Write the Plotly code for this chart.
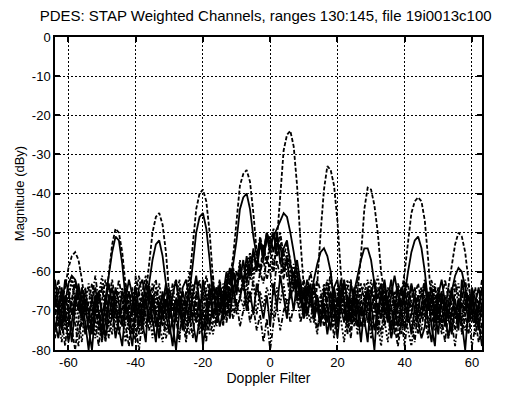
import plotly.graph_objects as go

doppler = list(range(-64, 64))

# target-bearing range (dashed)
s1 = [-70, -74, -68, -64, -59, -56, -55, -57, -62, -69, -75, -70, -66, -72, -78, -68,
      -60, -53, -49, -50, -55, -64, -72, -76, -69, -65, -71, -66, -58, -50, -46, -45,
      -48, -55, -66, -74, -70, -67, -73, -69, -62, -52, -44, -40, -39, -42, -50, -62,
      -72, -68, -74, -66, -62, -56, -46, -38, -35, -34, -37, -45, -55, -60, -57, -62,
      -58, -60, -52, -40, -29, -25, -24, -28, -38, -52, -64, -70, -66, -72, -63, -50,
      -39, -33, -34, -38, -47, -60, -68, -74, -69, -72, -65, -56, -44, -38.5, -39, -43,
      -50, -60, -66, -72, -69, -76, -70, -66, -60, -52, -45, -42, -41, -42, -47, -57,
      -69, -73, -68, -74, -70, -64, -58, -53, -50, -51, -55, -62, -70, -74, -68, -72]
# adjacent range (solid), weaker target returns
s2 = [-66, -70, -75, -68, -63, -61, -62, -66, -72, -67, -70, -76, -68, -65, -71, -67,
      -61, -55, -51, -52, -58, -67, -73, -68, -64, -70, -74, -67, -63, -57, -53, -52,
      -56, -63, -71, -66, -62, -69, -75, -70, -65, -58, -50, -46, -45, -49, -57, -67,
      -64, -70, -66, -60, -63, -58, -52, -44, -41, -40, -44, -51, -56, -52, -55, -50,
      -53, -51, -49, -47, -45, -46, -50, -55, -61, -66, -72, -64, -68, -62, -58, -55,
      -54, -56, -60, -68, -74, -66, -62, -68, -73, -65, -61, -57, -54, -54, -57, -63,
      -71, -67, -62, -68, -75, -70, -64, -69, -66, -60, -55, -52, -51, -54, -60, -68,
      -64, -70, -76, -66, -69, -72, -65, -61, -59, -60, -64, -70, -66, -73, -69, -64]
s3 = [-62, -68, -74, -66, -70, -78, -69, -64, -67, -73, -80, -71, -66, -70, -75, -68,
      -63, -69, -77, -72, -65, -68, -74, -79, -70, -64, -62, -68, -73, -66, -71, -77,
      -69, -63, -67, -74, -80, -70, -65, -69, -73, -66, -61, -68, -75, -70, -64, -71,
      -70, -64, -72, -62, -68, -60, -66, -58, -63, -56, -61, -54, -59, -52, -57, -51,
      -55, -50, -56, -53, -60, -57, -64, -60, -67, -62, -70, -66, -63, -71, -66, -73,
      -68, -73, -65, -70, -77, -68, -63, -67, -72, -66, -70, -78, -69, -64, -68, -75,
      -70, -65, -71, -67, -62, -69, -74, -68, -64, -70, -76, -69, -66, -72, -67, -73,
      -78, -70, -65, -69, -74, -68, -64, -71, -67, -73, -80, -69, -65, -70, -75, -68]
s4 = [-71, -65, -69, -75, -67, -62, -70, -76, -72, -66, -64, -70, -77, -68, -63, -69,
      -74, -67, -71, -65, -72, -78, -70, -66, -64, -71, -76, -69, -63, -70, -66, -73,
      -78, -71, -65, -70, -67, -62, -68, -74, -69, -63, -70, -76, -68, -64, -72, -66,
      -65, -71, -63, -69, -61, -67, -64, -57, -65, -60, -55, -62, -57, -61, -54, -58,
      -52, -58, -54, -51, -59, -55, -62, -58, -65, -70, -64, -69, -73, -65, -70, -66,
      -71, -65, -69, -74, -67, -72, -78, -70, -66, -71, -64, -69, -73, -67, -62, -68,
      -73, -79, -71, -66, -70, -65, -71, -76, -70, -65, -68, -74, -70, -64, -69, -75,
      -67, -63, -70, -76, -68, -72, -66, -62, -69, -74, -67, -63, -70, -76, -71, -66]
s5 = [-67, -73, -78, -70, -65, -68, -73, -79, -69, -64, -71, -67, -73, -79, -72, -66,
      -70, -76, -68, -62, -67, -73, -69, -64, -74, -80, -72, -67, -71, -65, -62, -69,
      -66, -72, -68, -63, -70, -76, -71, -65, -71, -77, -66, -62, -69, -74, -67, -61,
      -73, -68, -66, -71, -65, -70, -62, -66, -61, -68, -59, -64, -66, -60, -63, -56,
      -60, -66, -57, -62, -55, -61, -67, -63, -59, -66, -72, -68, -64, -70, -75, -69,
      -66, -62, -67, -72, -66, -70, -63, -68, -75, -69, -65, -72, -66, -70, -77, -71,
      -64, -68, -74, -69, -64, -71, -67, -72, -79, -71, -67, -64, -70, -75, -68, -65,
      -71, -66, -73, -68, -62, -67, -73, -79, -71, -66, -62, -68, -73, -67, -72, -77]
s6 = [-75, -69, -64, -71, -78, -73, -66, -70, -64, -69, -75, -80, -70, -65, -71, -77,
      -68, -64, -70, -75, -79, -69, -65, -71, -67, -74, -69, -63, -66, -72, -78, -68,
      -72, -67, -73, -79, -69, -66, -74, -70, -64, -69, -73, -67, -79, -72, -68, -63,
      -68, -74, -70, -65, -72, -64, -69, -67, -62, -70, -65, -71, -63, -68, -72, -66,
      -74, -63, -69, -61, -66, -72, -64, -70, -62, -68, -65, -71, -67, -63, -69, -74,
      -64, -70, -75, -64, -62, -69, -73, -66, -70, -64, -68, -74, -71, -65, -72, -80,
      -68, -72, -66, -70, -77, -72, -68, -64, -68, -73, -71, -66, -72, -69, -63, -70,
      -66, -73, -68, -65, -71, -77, -70, -67, -73, -68, -70, -66, -71, -68, -64, -70]
s7 = [-68, -62, -67, -72, -69, -74, -80, -72, -66, -71, -68, -63, -69, -74, -70, -78,
      -72, -66, -73, -69, -70, -64, -68, -73, -78, -70, -66, -71, -75, -69, -64, -70,
      -74, -68, -64, -69, -72, -67, -73, -78, -68, -72, -65, -70, -66, -61, -66, -72,
      -64, -69, -66, -72, -63, -60, -65, -59, -63, -58, -62, -56, -55, -60, -53, -58,
      -54, -60, -52, -57, -62, -56, -59, -65, -61, -66, -70, -64, -68, -73, -67, -70,
      -74, -68, -62, -66, -71, -65, -69, -76, -67, -73, -69, -63, -67, -73, -70, -66,
      -76, -70, -64, -68, -73, -70, -77, -71, -66, -71, -64, -70, -76, -70, -66, -72,
      -70, -75, -70, -66, -73, -64, -69, -75, -70, -65, -71, -76, -68, -72, -78, -73]
s8 = [-64, -70, -66, -73, -68, -61, -66, -72, -78, -69, -63, -67, -72, -66, -61, -67,
      -73, -68, -76, -70, -64, -69, -75, -71, -66, -61, -67, -74, -70, -77, -68, -63,
      -69, -75, -70, -65, -62, -68, -73, -66, -60, -66, -71, -67, -73, -65, -70, -76,
      -71, -66, -73, -68, -70, -64, -71, -66, -69, -63, -68, -62, -71, -65, -69, -64,
      -67, -72, -64, -68, -63, -70, -66, -62, -68, -64, -69, -72, -66, -71, -76, -68,
      -63, -68, -72, -67, -64, -71, -66, -62, -69, -74, -67, -71, -66, -62, -70, -65,
      -61, -67, -72, -78, -69, -65, -70, -74, -69, -75, -79, -72, -67, -64, -71, -68,
      -62, -68, -73, -67, -71, -77, -72, -66, -63, -69, -75, -71, -66, -73, -69, -65]
s9 = [-73, -77, -70, -62, -65, -71, -67, -63, -70, -76, -72, -67, -64, -71, -77, -73,
      -66, -72, -64, -68, -74, -67, -62, -66, -72, -68, -73, -78, -64, -68, -74, -72,
      -65, -70, -76, -72, -67, -71, -64, -62, -67, -73, -78, -72, -62, -67, -74, -68,
      -67, -63, -69, -64, -59, -65, -60, -62, -57, -63, -58, -55, -60, -53, -56, -52,
      -51, -55, -50, -58, -54, -52, -58, -61, -57, -63, -67, -62, -66, -72, -69, -73,
      -69, -76, -70, -64, -69, -62, -67, -73, -63, -67, -74, -69, -72, -78, -66, -62,
      -67, -63, -69, -73, -66, -61, -66, -70, -75, -68, -63, -67, -73, -77, -74, -66,
      -74, -79, -66, -62, -68, -72, -76, -69, -75, -62, -68, -73, -64, -67, -73, -79]
s10 = [-69, -64, -72, -79, -71, -67, -62, -67, -74, -68, -72, -66, -61, -68, -64, -70,
       -77, -71, -66, -73, -69, -63, -70, -76, -61, -66, -71, -65, -68, -74, -70, -66,
       -71, -77, -73, -66, -72, -78, -67, -72, -76, -70, -67, -74, -70, -78, -63, -70,
       -74, -70, -65, -73, -68, -72, -67, -74, -70, -66, -73, -69, -75, -71, -78, -72,
       -80, -73, -69, -75, -70, -67, -73, -69, -66, -73, -69, -64, -60, -66, -62, -65,
       -72, -66, -60, -68, -73, -67, -71, -64, -62, -70, -76, -67, -63, -69, -74, -68,
       -74, -66, -63, -70, -75, -67, -63, -66, -62, -67, -73, -78, -69, -66, -62, -68,
       -73, -69, -64, -72, -78, -70, -65, -72, -68, -72, -65, -70, -79, -74, -68, -62]
s11 = [-77, -71, -66, -69, -74, -68, -63, -68, -71, -65, -70, -74, -68, -76, -67, -62,
       -67, -62, -68, -76, -71, -74, -79, -68, -70, -76, -65, -61, -68, -63, -70, -75,
       -70, -64, -72, -68, -73, -64, -70, -76, -72, -66, -62, -69, -65, -70, -76, -73,
       -66, -62, -68, -61, -66, -59, -64, -61, -58, -62, -56, -60, -57, -51, -55, -50,
       -53, -49, -54, -50, -56, -53, -57, -64, -60, -66, -62, -67, -64, -69, -66, -71,
       -67, -63, -69, -77, -70, -64, -68, -71, -77, -67, -62, -66, -74, -70, -64, -70,
       -71, -76, -68, -64, -69, -74, -79, -73, -65, -63, -70, -66, -63, -68, -72, -77,
       -68, -64, -69, -74, -66, -70, -75, -63, -66, -76, -71, -66, -69, -64, -70, -74]

series = [s3, s4, s5, s6, s7, s8, s9, s10, s11, s2, s1]
dashes = ["solid", "2px,2px", "5px,2px,1.5px,2px", "solid", "4px,2px", "2px,2px",
          "solid", "5px,2px,1.5px,2px", "4px,2px", "solid", "4px,2px"]

x_ticks = [-60, -40, -20, 0, 20, 40, 60]
x_tick_labels = ["-60", "-40", "-20", "0", "20", "40", "60"]
y_ticks = [0, -10, -20, -30, -40, -50, -60, -70, -80]
y_tick_labels = ["0", "-10", "-20", "-30", "-40", "-50", "-60", "-70", "-80"]

fig = go.Figure()
for s, d in zip(series, dashes):
    fig.add_trace(go.Scatter(x=doppler, y=s, mode="lines",
                             line=dict(color="black", width=1.8, dash=d),
                             showlegend=False, hoverinfo="skip"))

font = "Liberation Sans, Arial, sans-serif"
axis_common = dict(showline=True, linecolor="black", linewidth=1.5, mirror="ticks",
                   ticks="inside", ticklen=5, tickcolor="black", tickwidth=1.5,
                   showgrid=True, gridcolor="black", gridwidth=1.2, griddash="2px,2px",
                   zeroline=False, tickfont=dict(family=font, size=13, color="black"))

fig.update_layout(
    width=506, height=394,
    margin=dict(l=55, r=24, t=37, b=41),
    paper_bgcolor="white", plot_bgcolor="white",
    title=dict(text="PDES: STAP Weighted Channels, ranges 130:145, file 19i0013c100",
               font=dict(family=font, size=15, color="black"),
               x=0.525, xanchor="center", y=0.96, yanchor="middle"),
    xaxis=dict(range=[-64, 63], tickvals=x_ticks, ticktext=x_tick_labels,
               title=dict(text="Doppler Filter", font=dict(family=font, size=14, color="black"),
                          standoff=2),
               **axis_common),
    yaxis=dict(range=[-80, 0], tickvals=y_ticks, ticktext=y_tick_labels,
               title=dict(text="Magnitude (dBy)", font=dict(family=font, size=13, color="black"),
                          standoff=4),
               **axis_common),
)

fig.write_html("out.html")
